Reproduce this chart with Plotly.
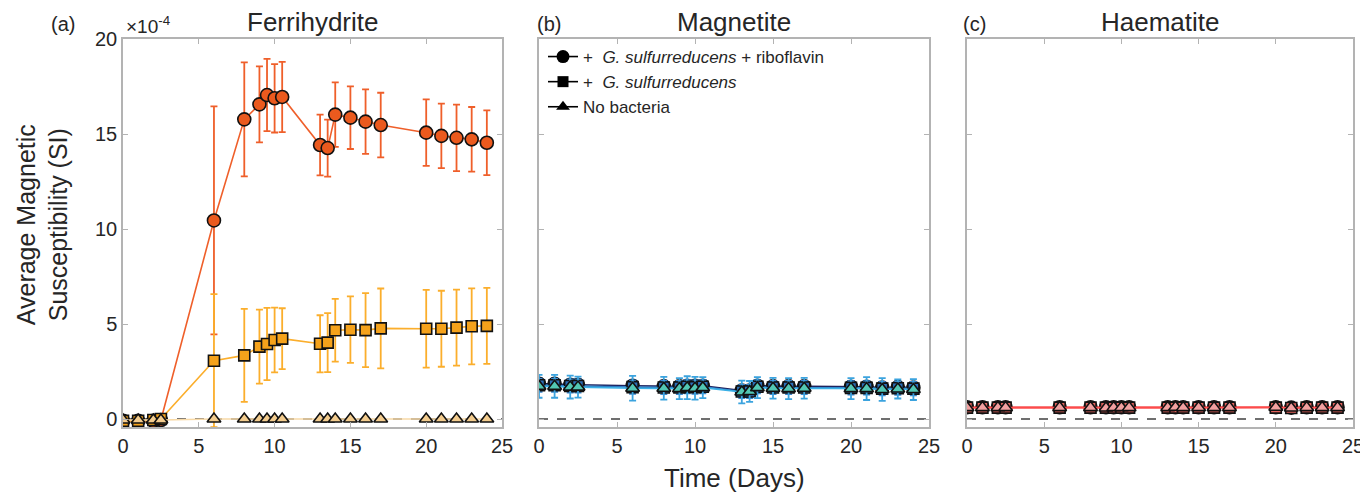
import plotly.graph_objects as go

# ---------------- data (values in units of 1e-4 SI) ----------------
days = [0, 1, 2, 2.5, 6, 8, 9, 9.5, 10, 10.5, 13, 13.5, 14, 15, 16, 17, 20, 21, 22, 23, 24]

ferri_ribo = [-0.1, -0.1, -0.1, -0.05, 10.45, 15.77, 16.56, 17.05, 16.88, 16.95, 14.42, 14.26,
              16.02, 15.86, 15.65, 15.47, 15.07, 14.9, 14.8, 14.72, 14.54]
ferri_ribo_err = [0.05, 0.05, 0.05, 0.05, 6.0, 3.0, 2.0, 1.9, 1.8, 1.85, 1.6, 1.5,
                  1.7, 1.65, 1.7, 1.7, 1.75, 1.7, 1.75, 1.7, 1.7]
ferri_geo = [-0.1, -0.1, -0.05, 0.0, 3.07, 3.35, 3.81, 3.95, 4.16, 4.23, 3.96, 4.02,
             4.67, 4.7, 4.68, 4.77, 4.75, 4.75, 4.81, 4.88, 4.9]
ferri_geo_err = [0.05, 0.05, 0.05, 0.05, 3.5, 2.45, 1.95, 1.9, 1.7, 1.6, 1.5, 1.55,
                 1.65, 1.75, 1.95, 2.1, 2.05, 2.0, 2.0, 2.0, 2.0]
ferri_none = [-0.05, -0.05, -0.05, -0.05, 0.0, 0.0, 0.0, 0.0, 0.0, 0.0, 0.0, 0.0,
              0.0, 0.0, 0.0, 0.0, 0.0, 0.0, 0.0, 0.0, 0.0]
ferri_none_err = [0.05] * 21

mag_ribo = [1.85, 1.85, 1.8, 1.8, 1.75, 1.72, 1.72, 1.75, 1.75, 1.75, 1.5, 1.5,
            1.75, 1.72, 1.72, 1.72, 1.7, 1.7, 1.65, 1.68, 1.65]
mag_ribo_err = [0.3, 0.3, 0.3, 0.3, 0.3, 0.3, 0.25, 0.3, 0.3, 0.3, 0.25, 0.25,
                0.3, 0.3, 0.3, 0.3, 0.3, 0.3, 0.3, 0.3, 0.3]
mag_geo = [1.78, 1.78, 1.74, 1.74, 1.68, 1.66, 1.66, 1.7, 1.68, 1.7, 1.45, 1.45,
           1.7, 1.66, 1.66, 1.66, 1.64, 1.64, 1.6, 1.62, 1.6]
mag_geo_err = [0.35] * 21
mag_none = [1.72, 1.72, 1.68, 1.68, 1.62, 1.62, 1.6, 1.65, 1.62, 1.65, 1.42, 1.45,
            1.65, 1.62, 1.6, 1.62, 1.6, 1.6, 1.55, 1.58, 1.55]
mag_none_err = [0.6, 0.6, 0.6, 0.55, 0.65, 0.6, 0.55, 0.6, 0.6, 0.55, 0.6, 0.55,
                0.55, 0.55, 0.55, 0.55, 0.55, 0.6, 0.6, 0.5, 0.55]

haem_ribo = [0.62, 0.62, 0.62, 0.62, 0.62, 0.62, 0.62, 0.62, 0.62, 0.62, 0.62, 0.62,
             0.62, 0.62, 0.62, 0.62, 0.62, 0.6, 0.62, 0.62, 0.62]
haem_ribo_err = [0.05] * 21
haem_geo = [0.6, 0.6, 0.6, 0.6, 0.6, 0.6, 0.6, 0.6, 0.6, 0.6, 0.6, 0.6,
            0.6, 0.6, 0.6, 0.6, 0.6, 0.58, 0.6, 0.6, 0.6]
haem_geo_err = [0.05] * 21
haem_none = [0.6, 0.6, 0.6, 0.6, 0.6, 0.6, 0.58, 0.6, 0.6, 0.6, 0.6, 0.62,
             0.6, 0.6, 0.6, 0.6, 0.62, 0.58, 0.6, 0.6, 0.6]
haem_none_err = [0.06] * 21

panel_titles = ["Ferrihydrite", "Magnetite", "Haematite"]
panel_letters = ["(a)", "(b)", "(c)"]
legend_names = ["+  <i>G. sulfurreducens</i> + riboflavin",
                "+  <i>G. sulfurreducens</i>",
                "No bacteria"]
x_ticks = [0, 5, 10, 15, 20, 25]
y_ticks = [0, 5, 10, 15, 20]

FONT = "Liberation Sans, Arial, Helvetica, sans-serif"
TXT = "#262626"
AX = "#b3b3b3"

# page offset (body margin) compensation
OFF = 8
L, R, T, B = 123 - OFF, 23, 39 - OFF, 73
PW = 1368 - L - R


def px_to_paper(px):
    return (px - OFF - L) / PW


fig = go.Figure()


def add_series(x, y, err, ax, symbol, size, fill, line_col, err_col):
    fig.add_trace(go.Scatter(
        x=x, y=y, mode="lines+markers", xaxis=ax[0], yaxis=ax[1],
        line=dict(color=line_col, width=1.6),
        marker=dict(symbol=symbol, size=size, color=fill,
                    line=dict(color="#111111", width=1.6)),
        error_y=dict(type="data", array=err, visible=True, color=err_col,
                     thickness=1.8, width=3.5),
        showlegend=False, hoverinfo="x+y"))


# (a) Ferrihydrite
add_series(days, ferri_ribo, ferri_ribo_err, ("x", "y"), "circle", 13, "#EB5A1E", "#EF5F2A", "#EF5F2A")
add_series(days, ferri_geo, ferri_geo_err, ("x", "y"), "square", 11, "#F5A21B", "#FBAE2C", "#FBAE2C")
add_series(days, ferri_none, ferri_none_err, ("x", "y"), "triangle-up", 12, "#F3CC8E", "#F8D9A6", "#F3CC8E")

# (b) Magnetite
add_series(days, mag_ribo, mag_ribo_err, ("x2", "y2"), "circle", 13, "#22286A", "#1E225E", "#2A3A8C")
add_series(days, mag_geo, mag_geo_err, ("x2", "y2"), "square", 11, "#2C6FB8", "#2C78C0", "#3A86CC")
add_series(days, mag_none, mag_none_err, ("x2", "y2"), "triangle-up", 12, "#52C7B4", "#3BB0E6", "#3BA3DE")

# (c) Haematite
add_series(days, haem_ribo, haem_ribo_err, ("x3", "y3"), "circle", 13, "#C8372D", "#F04848", "#F04848")
add_series(days, haem_geo, haem_geo_err, ("x3", "y3"), "square", 11, "#E0605A", "#F25555", "#F25555")
add_series(days, haem_none, haem_none_err, ("x3", "y3"), "triangle-up", 12, "#F2A0A0", "#FF4A4A", "#F2A0A0")

# legend (black symbols), shown in panel (b)
for name, sym, sz in zip(legend_names, ["circle", "square", "triangle-up"], [13, 11, 12]):
    fig.add_trace(go.Scatter(
        x=[None], y=[None], mode="lines+markers", xaxis="x2", yaxis="y2", name=name,
        line=dict(color="black", width=1.6),
        marker=dict(symbol=sym, size=sz, color="black"), showlegend=True))

# dashed zero lines
for xa, ya in [("x", "y"), ("x2", "y2"), ("x3", "y3")]:
    fig.add_shape(type="line", xref=f"{xa} domain", yref=ya, x0=0, x1=1, y0=0, y1=0,
                  line=dict(color="#404040", width=1.3, dash="dash"), layer="below")

domains = [(px_to_paper(123), px_to_paper(502)),
           (px_to_paper(539), px_to_paper(929)),
           (px_to_paper(967), px_to_paper(1353))]
axis_common = dict(showline=True, linecolor=AX, linewidth=1.5, mirror="ticks",
                   ticks="inside", ticklen=5, tickcolor=AX, tickwidth=1,
                   showgrid=False, zeroline=False,
                   tickfont=dict(family=FONT, size=20, color=TXT))

layout = dict(
    width=1368, height=492,
    margin=dict(l=L, r=R, t=T, b=B),
    paper_bgcolor="white", plot_bgcolor="white",
    font=dict(family=FONT, color=TXT),
    legend=dict(x=px_to_paper(543), y=1.0, xanchor="left", yanchor="top",
                bgcolor="rgba(0,0,0,0)", font=dict(family=FONT, size=17, color=TXT),
                tracegroupgap=0, itemwidth=30),
)
for i, d in enumerate(domains):
    sfx = "" if i == 0 else str(i + 1)
    layout["xaxis" + sfx] = dict(domain=[max(0, d[0]), min(1, d[1])], range=[0, 25], tickvals=x_ticks,
                                 anchor="y" + sfx, **axis_common)
    layout["yaxis" + sfx] = dict(domain=[0, 1], range=[-0.42, 20], tickvals=y_ticks,
                                 anchor="x" + sfx, showticklabels=(i == 0), **axis_common)
fig.update_layout(**layout)

ann = []
for i, d in enumerate(domains):
    ann.append(dict(text=panel_titles[i], x=(d[0] + d[1]) / 2, y=1.0, xref="paper", yref="paper",
                    xanchor="center", yanchor="bottom", yshift=0, showarrow=False,
                    font=dict(family=FONT, size=26, color=TXT)))
letter_px = [63, 549, 975]
for i, px in enumerate(letter_px):
    ann.append(dict(text=panel_letters[i], x=px_to_paper(px), y=1.0, xref="paper", yref="paper",
                    xanchor="center", yanchor="bottom", yshift=2, showarrow=False,
                    font=dict(family=FONT, size=20, color=TXT)))
ann.append(dict(text="×10<sup>-4</sup>", x=px_to_paper(124), y=1.0, xref="paper", yref="paper",
                xanchor="left", yanchor="bottom", yshift=0, showarrow=False,
                font=dict(family=FONT, size=19, color=TXT)))
ann.append(dict(text="Average Magnetic<br>Susceptibility (SI)", x=px_to_paper(42), y=0.52,
                xref="paper", yref="paper", xanchor="center", yanchor="middle",
                textangle=-90, showarrow=False,
                font=dict(family=FONT, size=25, color=TXT)))
ann.append(dict(text="Time (Days)", x=(domains[1][0] + domains[1][1]) / 2, y=0, xref="paper",
                yref="paper", xanchor="center", yanchor="top", yshift=-34, showarrow=False,
                font=dict(family=FONT, size=26, color=TXT)))
fig.update_layout(annotations=ann)

fig.write_html("out.html")
